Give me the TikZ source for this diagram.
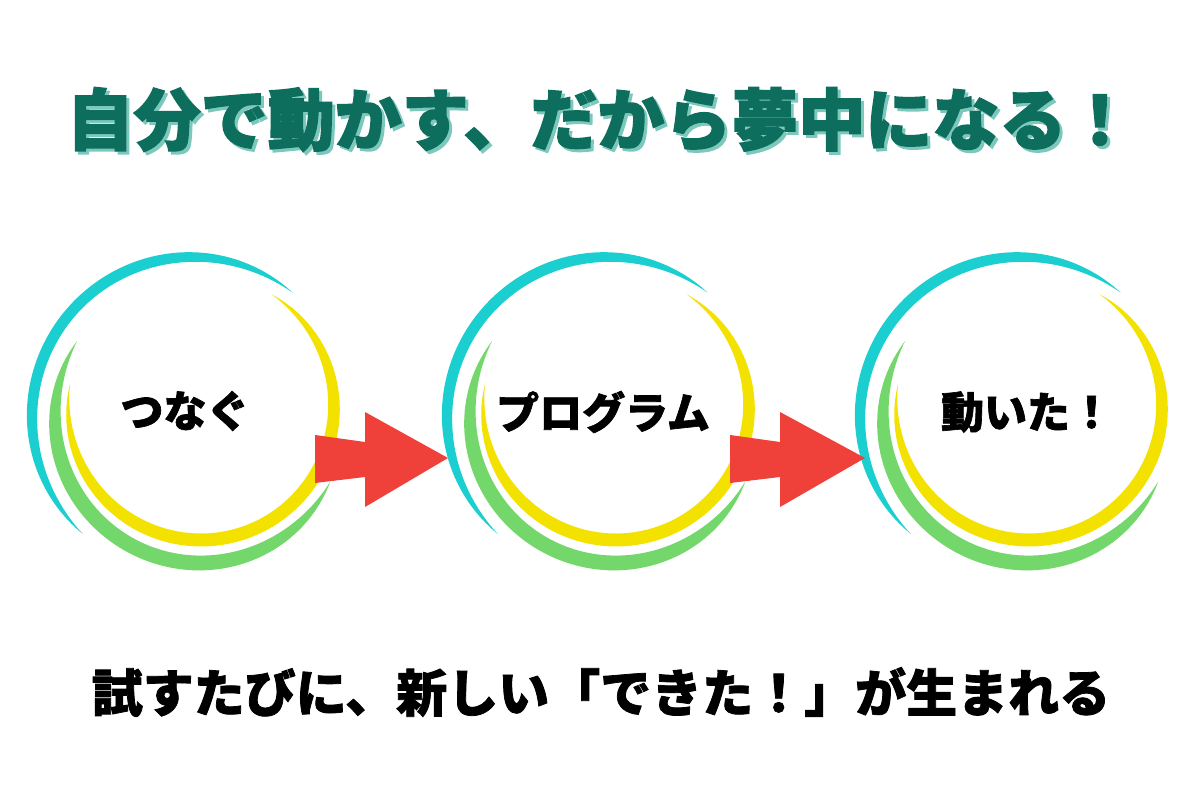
\documentclass[tikz,border=0pt]{standalone}
\usepackage{fontspec}
\newfontfamily\jp{Noto Sans CJK JP}[BoldFeatures={FakeBold=1.5}]
\newfontfamily\jph{Noto Sans CJK JP}[BoldFeatures={FakeBold=2.2}]
\definecolor{titlegreen}{HTML}{0E6E5D}
\definecolor{titleshadow}{HTML}{7DC8BD}
\definecolor{brushcyan}{HTML}{1BCFD0}
\definecolor{brushyellow}{HTML}{F3E100}
\definecolor{brushgreen}{HTML}{74D76B}
\definecolor{arrowred}{HTML}{EF403A}
% brush stroke: color, cx, cy, R, wmax, a, b
\newcommand\brushstroke[7]{%
  \fill[#1] plot[domain=#6:#7, samples=90, variable=\t]
    ({#2+(#4+0.5*#5*sin((\t-(#6))/((#7)-(#6))*180)*(2-sin((\t-(#6))/((#7)-(#6))*180)))*cos(\t)},
     {#3-(#4+0.5*#5*sin((\t-(#6))/((#7)-(#6))*180)*(2-sin((\t-(#6))/((#7)-(#6))*180)))*sin(\t)})
  -- plot[domain=#7:#6, samples=90, variable=\t]
    ({#2+(#4-0.5*#5*sin((\t-(#6))/((#7)-(#6))*180)*(2-sin((\t-(#6))/((#7)-(#6))*180)))*cos(\t)},
     {#3-(#4-0.5*#5*sin((\t-(#6))/((#7)-(#6))*180)*(2-sin((\t-(#6))/((#7)-(#6))*180)))*sin(\t)})
  -- cycle;}
\newcommand\ringset[1]{%
  \brushstroke{brushcyan}{192+#1}{417}{160}{11}{51}{227}
  \brushstroke{brushgreen}{200+#1}{418}{145}{15}{148}{334}
  \brushstroke{brushyellow}{201+#1}{407}{133}{13}{-190}{58}}
\newcommand\shadowed[1]{\makebox[0pt][l]{\hspace{3pt}\raisebox{-3pt}{\color{titleshadow}#1}}\color{titlegreen}#1}
\tikzset{
  titletext/.style={font=\jph\bfseries\fontsize{67}{72}\selectfont, inner sep=0pt, anchor=center},
  steplabel/.style={font=\jp\bfseries\fontsize{43}{46}\selectfont, inner sep=0pt, anchor=center, text=black},
  bottomtext/.style={font=\jp\bfseries\fontsize{51}{54}\selectfont, inner sep=0pt, anchor=center, text=black},
  redarrow/.style={fill=arrowred}
}
\begin{document}
\begin{tikzpicture}[x=1pt,y=-1pt]
\useasboundingbox (0,0) rectangle (1200,800);
\fill[white] (0,0) rectangle (1200,800);
% title
\node[titletext] (title) at (600,121) {\shadowed{自分で動かす、だから夢中になる！}};
% rings
\ringset{0}
\ringset{415}
\ringset{828}
% arrows
\fill[redarrow] (315,435) -- (365,442) -- (365,412) -- (448,458) -- (365,507) -- (365,477) -- (315,483) -- cycle;
\fill[redarrow] (730,435) -- (780,442) -- (780,412) -- (865,458) -- (780,507) -- (780,477) -- (730,483) -- cycle;
% labels
\node[steplabel] (s1) at (185,411) {つなぐ};
\node[steplabel] (s2) at (603,412) {プログラム};
\node[steplabel] (s3) at (1027,412) {動いた！};
\node[bottomtext] (bottom) at (601,692) {試すたびに、新しい「できた！」が生まれる};
\end{tikzpicture}
\end{document}
